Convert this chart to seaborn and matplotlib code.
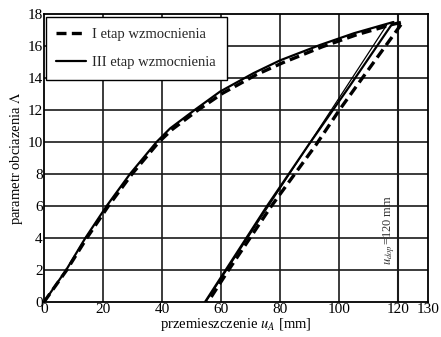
import matplotlib
matplotlib.use("Agg")
import matplotlib.pyplot as plt
import seaborn as sns
import pandas as pd

# Stage I (dashed): loading then unloading
x_I = [0, 7.7, 14.5, 21.8, 29.8, 38.9, 43.5, 51.8, 60.5, 71.8, 80.8, 94.2, 105.8, 118, 121.5,
       107, 100, 92, 77, 62.5, 55.5]
y_I = [0, 2, 4, 6, 8, 10, 10.8, 11.95, 13.05, 14.2, 14.95, 15.95, 16.7, 17.35, 17.5,
       13.8, 12, 9.8, 6.0, 2.0, 0]

# Stage III (solid): loading then unloading
x_III = [0, 7.5, 14, 21.2, 29.1, 38.1, 42.7, 51, 59.6, 70.9, 79.9, 93.4, 105, 118.3,
         103.5, 89.5, 75.5, 61.5, 54.5]
y_III = [0, 2, 4, 6, 8, 10, 10.85, 12, 13.15, 14.3, 15.1, 16.06, 16.8, 17.5,
         13.5, 9.8, 6.0, 2.0, 0]

# Stage III reloading branch (thin)
x_III_re = [54.8, 116.0]
y_III_re = [0, 17.3]

x_ticks = [0, 20, 40, 60, 80, 100, 120, 130]
y_ticks = [0, 2, 4, 6, 8, 10, 12, 14, 16, 18]
u_dop = 120

sns.set_theme(style="white")
plt.rcParams['font.family'] = ['Liberation Serif', 'DejaVu Serif']
plt.rcParams['mathtext.fontset'] = 'stix'

fig = plt.figure(figsize=(4.41, 3.37), dpi=100)
ax = fig.add_axes([0.0998, 0.1039, 0.8707, 0.8546])

df_I = pd.DataFrame({"x": x_I, "y": y_I})
df_III = pd.DataFrame({"x": x_III, "y": y_III})
df_re = pd.DataFrame({"x": x_III_re, "y": y_III_re})

# grid
for gx in [20, 40, 60, 80, 100]:
    ax.axvline(gx, color="#1a1a1a", lw=1.2, zorder=1)
for gy in y_ticks[1:-1]:
    ax.axhline(gy, color="#1a1a1a", lw=1.2, zorder=1)
ax.axvline(u_dop, color="#1a1a1a", lw=1.5, zorder=1)

sns.lineplot(data=df_re, x="x", y="y", sort=False, color="black", lw=0.9, ax=ax,
             estimator=None, legend=False, zorder=3)
sns.lineplot(data=df_III, x="x", y="y", sort=False, color="black", lw=1.6, ax=ax,
             estimator=None, label="III etap wzmocnienia", zorder=3)
sns.lineplot(data=df_I, x="x", y="y", sort=False, color="black", lw=2.4, ax=ax,
             estimator=None, label="I etap wzmocnienia", zorder=4,
             linestyle=(0, (3.0, 1.6)))

ax.set_xlim(0, 130)
ax.set_ylim(0, 18)
ax.set_xticks(x_ticks)
ax.set_yticks(y_ticks)
ax.set_xticklabels([str(t) for t in x_ticks])
ax.set_yticklabels([str(t) for t in y_ticks])
ax.tick_params(axis="both", labelsize=11, pad=1, length=0, colors="black")
for s in ax.spines.values():
    s.set_color("black")
    s.set_linewidth(1.3)

ax.set_xlabel(r"przemieszczenie $u_A$ [mm]", fontsize=10.5, labelpad=0, color="black")
ax.set_ylabel(r"parametr obciazenia $\mathit{\Lambda}$", fontsize=10.5, labelpad=2, color="black")

ax.text(116.8, 4.5, r"$u_{dop}$=120 mm", rotation=90, ha="center", va="center",
        fontsize=9, color="#333333", zorder=5)

handles, labels = ax.get_legend_handles_labels()
order = [labels.index("I etap wzmocnienia"), labels.index("III etap wzmocnienia")]
leg = ax.legend([handles[i] for i in order], [labels[i] for i in order],
                loc="upper left", bbox_to_anchor=(0.004, 0.991), fontsize=10.5,
                frameon=True, fancybox=False, framealpha=1, edgecolor="black",
                handlelength=2.0, handletextpad=0.45, labelspacing=1.05,
                borderpad=0.75, borderaxespad=0.0)
leg.get_frame().set_linewidth(1.0)
leg.set_zorder(10)

fig.savefig("out.png", dpi=100)
